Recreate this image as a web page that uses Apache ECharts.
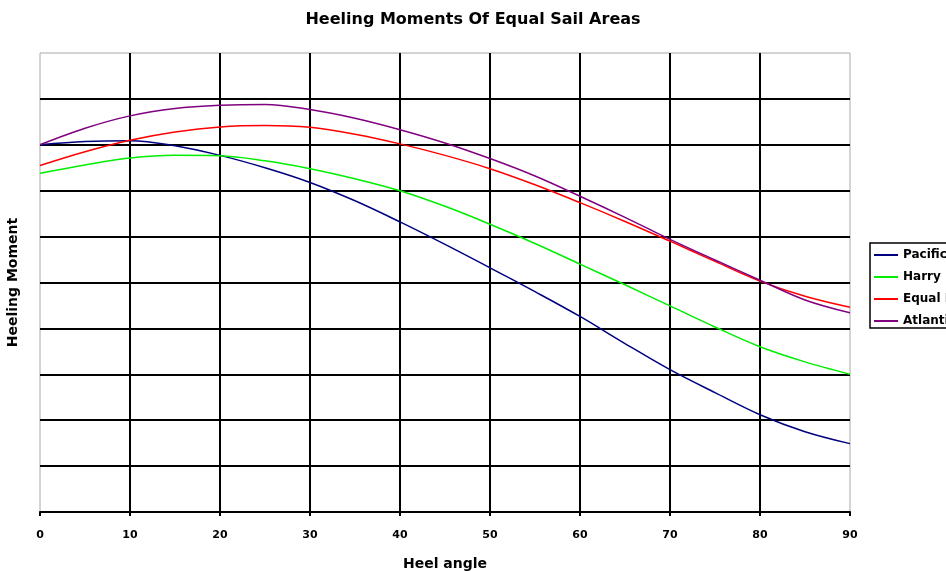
<!DOCTYPE html>
<html>
<head>
<meta charset="utf-8">
<title>Heeling Moments Of Equal Sail Areas</title>
<script src="https://cdn.jsdelivr.net/npm/echarts@6/dist/echarts.min.js"></script>
<style>
  html, body { margin: 0; padding: 0; background: #fff; }
  #chart { width: 946px; height: 571px; }
</style>
</head>
<body>
<div id="chart"></div>
<script>
// Heel angle in degrees
const heelAngles = [0, 5, 10, 15, 20, 25, 30, 35, 40, 45, 50, 55, 60, 65, 70, 75, 80, 85, 90];

// Heeling moment for each rig (arbitrary units, one unit per gridline)
const pacific  = [8.00, 8.07, 8.09, 7.98, 7.77, 7.50, 7.18, 6.78, 6.32, 5.83, 5.32, 4.80, 4.26, 3.67, 3.10, 2.60, 2.12, 1.75, 1.49];
const harry    = [7.38, 7.56, 7.71, 7.77, 7.76, 7.65, 7.48, 7.26, 7.00, 6.66, 6.27, 5.85, 5.40, 4.95, 4.49, 4.03, 3.60, 3.27, 3.00];
const equalL   = [7.55, 7.85, 8.10, 8.28, 8.39, 8.42, 8.38, 8.23, 8.02, 7.77, 7.48, 7.13, 6.74, 6.33, 5.90, 5.46, 5.03, 4.70, 4.46];
const atlantic = [8.00, 8.36, 8.63, 8.79, 8.86, 8.88, 8.77, 8.58, 8.33, 8.04, 7.70, 7.32, 6.88, 6.42, 5.94, 5.49, 5.05, 4.62, 4.34];

const seriesNames  = ['Pacific', 'Harry', 'Equal Lug', 'Atlantic'];
const seriesValues = [pacific, harry, equalL, atlantic];
const seriesColors = ['#000080', '#00ee00', '#ff0000', '#800080'];

const xTicks = { min: 0, max: 90, interval: 10 };
const yTicks = { min: 0, max: 10, interval: 1 };

const FONT = '"DejaVu Sans", sans-serif';

const chart = echarts.init(document.getElementById('chart'), null, { renderer: 'canvas' });

chart.setOption({
  animation: false,
  backgroundColor: '#ffffff',
  title: {
    text: 'Heeling Moments Of Equal Sail Areas',
    left: 'center',
    top: 7,
    textStyle: { fontFamily: FONT, fontWeight: 'bold', fontSize: 16, color: '#000' }
  },
  grid: {
    left: 40, right: 96, top: 53, bottom: 59,
    outerBoundsMode: 'none',
    containLabel: false,
    show: true,
    borderColor: '#a8a8a0',
    borderWidth: 1
  },
  legend: {
    orient: 'vertical',
    left: 870,
    top: 243,
    padding: [6, 60, 1, 4],
    itemGap: 10,
    itemWidth: 24,
    itemHeight: 2,
    icon: 'rect',
    borderColor: '#000',
    borderWidth: 1.5,
    textStyle: { fontFamily: FONT, fontWeight: 'bold', fontSize: 12, color: '#000', lineHeight: 12 },
    data: seriesNames
  },
  xAxis: {
    type: 'value',
    min: xTicks.min, max: xTicks.max, interval: xTicks.interval,
    name: 'Heel angle',
    nameLocation: 'middle',
    nameGap: 45,
    nameTextStyle: { fontFamily: FONT, fontWeight: 'bold', fontSize: 14, color: '#000' },
    axisLine: { show: true, lineStyle: { color: '#000', width: 2 } },
    axisTick: { show: true, length: 4, lineStyle: { color: '#000', width: 2 } },
    axisLabel: { margin: 18, fontFamily: FONT, fontWeight: 'bold', fontSize: 11, color: '#000' },
    splitLine: { show: true, showMinLine: false, showMaxLine: false, lineStyle: { color: '#000', width: 2 } }
  },
  yAxis: {
    type: 'value',
    min: yTicks.min, max: yTicks.max, interval: yTicks.interval,
    name: 'Heeling Moment',
    nameLocation: 'middle',
    nameGap: 20,
    nameTextStyle: { fontFamily: FONT, fontWeight: 'bold', fontSize: 14, color: '#000' },
    axisLine: { show: false },
    axisTick: { show: false },
    axisLabel: { show: false },
    splitLine: { show: true, showMinLine: false, showMaxLine: false, lineStyle: { color: '#000', width: 2 } }
  },
  series: seriesNames.map((name, i) => ({
    name: name,
    type: 'line',
    smooth: 0.35,
    showSymbol: false,
    symbol: 'none',
    lineStyle: { color: seriesColors[i], width: 1.5 },
    itemStyle: { color: seriesColors[i] },
    data: heelAngles.map((a, j) => [a, seriesValues[i][j]])
  }))
});
</script>
</body>
</html>
